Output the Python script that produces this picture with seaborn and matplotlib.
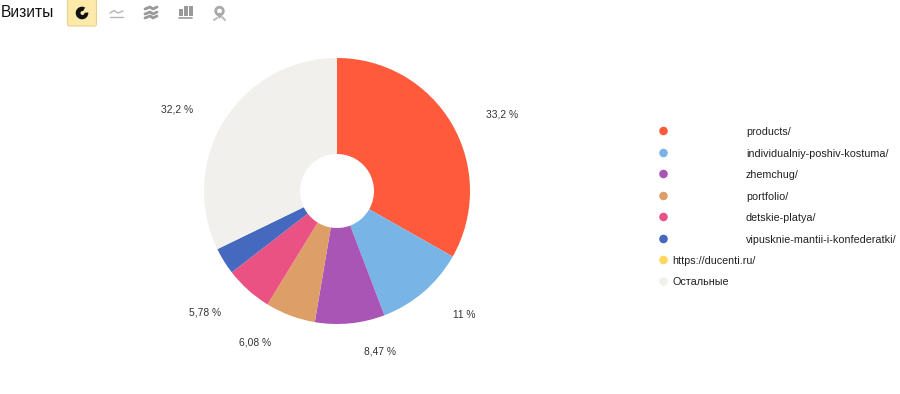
import matplotlib
matplotlib.use('Agg')
import matplotlib.pyplot as plt
from matplotlib.patches import FancyBboxPatch, Circle, Wedge, Rectangle, Polygon
import pandas as pd
import seaborn as sns

# data
segments = ['products/', 'individualniy-poshiv-kostuma/', 'zhemchug/', 'portfolio/',
            'detskie-platya/', 'vipusknie-mantii-i-konfederatki/', 'https://ducenti.ru/', 'Остальные']
visits = [33.2, 11, 8.47, 6.08, 5.78, 3.27, 0, 32.2]
percent_labels = ['33,2 %', '11 %', '8,47 %', '6,08 %', '5,78 %', '', '', '32,2 %']
colors = ['#ff5a3c', '#78b4e6', '#a855b5', '#dd9e68', '#ea5284', '#4469bf', '#fdd85e', '#f1f0ec']
title = 'Визиты'

sns.set_theme(style='white')
plt.rcParams['font.family'] = ['Liberation Sans', 'DejaVu Sans']

W, H = 900, 394
fig = plt.figure(figsize=(9, 3.94), dpi=100)
ax = fig.add_axes([0, 0, 1, 1])


def Y(py):
    # pixel row -> data y
    return H - py


# pie
ax.pie(visits, colors=colors, startangle=90, counterclock=False, center=(337, Y(191)), radius=133,
       wedgeprops={'width': 96, 'linewidth': 0}, frame=True)
ax.set_xlim(0, W)
ax.set_ylim(0, H)
ax.set_aspect('equal')
ax.axis('off')

# percent labels
label_xy = [(502.5, 114.5), (464, 314.5), (380.5, 351.5), (255.5, 342.5), (205.5, 312.5), None, None, (177.5, 109.5)]
for txt, xy in zip(percent_labels, label_xy):
    if xy is not None:
        ax.text(xy[0], Y(xy[1]), txt, fontsize=7.4, color='#333333', ha='center', va='center')

# legend
legend_y = [131, 153, 174, 196, 217, 239, 260, 281.5]
legend_x = [746, 746, 746, 746, 746, 746, 672.5, 672.5]
df = pd.DataFrame({'x': [663.5] * len(segments), 'y': [Y(v) for v in legend_y], 'seg': segments})
sns.scatterplot(data=df, x='x', y='y', hue='seg', palette=colors, s=38, linewidth=0, legend=False, ax=ax, zorder=3)
ax.set_xlabel('')
ax.set_ylabel('')
for seg, x, y in zip(segments, legend_x, legend_y):
    ax.text(x, Y(y + 0.5), seg, fontsize=7.75, color='#222222', ha='left', va='center')

# toolbar
ax.text(1, Y(12.5), title, fontsize=11.2, color='#111111', ha='left', va='center')
ax.add_patch(FancyBboxPatch((67.5, Y(26)), 29, 27, boxstyle='round,pad=0,rounding_size=2',
                            fc='#fde9a9', ec='#e9d08c', lw=0.8))
ax.add_patch(Circle((82, Y(13)), 6.3, fc='#111111', ec='none'))
ax.add_patch(Circle((82.5, Y(13)), 2.0, fc='#fde9a9', ec='none'))
ax.add_patch(Wedge((82, Y(13)), 7, 5, 60, fc='#fde9a9', ec='none'))
grey = '#a9a9a9'
# line icon
ax.plot([110, 114, 118, 123], [Y(13), Y(10.5), Y(13), Y(11)], color='#b5b5b5', lw=1)
ax.plot([110, 123], [Y(17), Y(17)], color='#b5b5b5', lw=1)
# stacked icon
for dy in [8, 13, 17]:
    ax.plot([145, 150, 153, 157], [Y(dy + 1), Y(dy - 1), Y(dy + 1), Y(dy - 1)], color='#999999', lw=2)
# bars icon
for bx, by in zip([180, 185, 190], [9, 6, 6]):
    ax.add_patch(Rectangle((bx - 1, Y(15.5)), 3.5, 15.5 - by, fc='#999999', ec='none'))
ax.plot([179, 192], [Y(18), Y(18)], color='#999999', lw=1.2)
# pin icon
ax.add_patch(Circle((219.5, Y(11)), 3.8, fc='none', ec=grey, lw=2))
ax.add_patch(Polygon([(215.5, Y(13)), (223.5, Y(13)), (219.5, Y(19))], fc=grey, ec='none'))
ax.plot([214, 217], [Y(20), Y(18)], color='#bbbbbb', lw=1.5)
ax.plot([222, 225], [Y(17), Y(20)], color='#bbbbbb', lw=1.5)

fig.savefig('out.png', dpi=100, facecolor='white')
